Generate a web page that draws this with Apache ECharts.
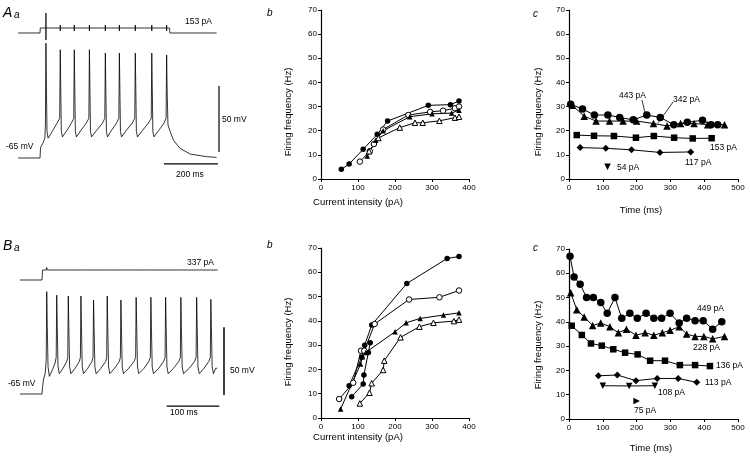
<!DOCTYPE html>
<html><head><meta charset="utf-8">
<script src="https://cdn.jsdelivr.net/npm/echarts@6/dist/echarts.min.js"></script>
<style>html,body{margin:0;padding:0;background:#fff}#c{width:750px;height:458px}</style>
</head><body><div id="c"></div>
<script>
// ---------- DATA ----------
// Panel Aa: membrane potential trace [ms, mV] and current step [ms, pA]
const aaVoltage = [[-81,-65],[0,-65],[2,-57],[10,-54],[18,-50],[20,-40],
 [22,22],[24,-15],[26,-45],[30,-50],[45,-45],[62,-39],[73,-35],
 [75,17],[77,-15],[79,-45],[83,-49],[100,-44],[115,-39],[125,-35],
 [127,17],[129,-15],[131,-45],[135,-49],[152,-44],[170,-39],[181,-35],
 [183,17],[185,-15],[187,-45],[191,-49],[210,-44],[230,-39],[240,-35],
 [242,14.5],[244,-15],[246,-45],[250,-49],[265,-44],[282,-39],[292,-35],
 [294,14.5],[296,-15],[298,-45],[302,-49],[320,-44],[340,-39],[351,-35],
 [353,14.5],[355,-15],[357,-45],[361,-49],[380,-44],[400,-39],[412,-35],
 [414,14.5],[416,-15],[418,-45],[422,-49],[440,-44],[458,-39],[467,-35],
 [469,13],[471,-15],[474,-40],[484,-46],[494,-51.4],[518,-57.6],[556,-62],[617,-64],[654,-64.5]];
const aaCurrent = [[-81,0],[0,0],[1,153],[22,153],[22,612],[22,-214],[22,153],
 [75,153],[75,245],[75,61],[75,153],[127,153],[127,245],[127,61],[127,153],
 [183,153],[183,245],[183,61],[183,153],[242,153],[242,245],[242,61],[242,153],
 [294,153],[294,245],[294,61],[294,153],[353,153],[353,245],[353,61],[353,153],
 [414,153],[414,245],[414,61],[414,153],[469,153],[469,245],[469,61],[469,153],
 [480,153],[481,0],[654,0]];
const aaBarT = [[459,-69.5],[659,-69.5]];
const aaBarV = [[663,-60.5],[663,-10.5]];

// Panel Ba
const baVoltage = [[-42,-65],[0,-65],[1,-60],[3,-54],[6,-50],[8,-40],
 [9,10.6],[10,-15],[11.5,-45],[14,-52],[20,-47],[25,-42],[27,-38],
 [28,8],[29,-15],[30.5,-45],[33,-50],[40,-46],[47,-41],[49,-38],
 [50,7.4],[51,-15],[52.5,-45],[55,-50],[63,-46],[71,-41],[73,-38],
 [74,7.4],[75,-15],[76.5,-45],[79,-50],[87,-46],[95,-41],[97,-38],
 [98,4.4],[99,-15],[100.5,-45],[103,-50],[112,-46],[121,-41],[123,-38],
 [124,7.4],[125,-15],[126.5,-45],[129,-50],[138,-46],[147,-41],[149,-38],
 [150,4.4],[151,-15],[152.5,-45],[155,-50],[165,-46],[175,-41],[178,-38],
 [179,6.4],[180,-15],[181.5,-45],[184,-50],[194,-46],[203,-41],[206,-38],
 [207,6.4],[208,-15],[209.5,-45],[212,-50],[222,-46],[231,-41],[234,-38],
 [235,6.4],[236,-15],[237.5,-45],[240,-50],[250,-46],[260,-41],[263,-38],
 [264,6.4],[265,-15],[266.5,-45],[269,-50],[280,-46],[290,-41],[293,-38],
 [294,6.4],[295,-15],[296.5,-45],[299,-50],[308,-46],[317,-41],[320,-38],
 [321,4.9],[322,-15],[323.5,-45],[326,-50],[330,-46],[333,-46]];
const baCurrent = [[-42,0],[0,0],[1,337],[8,337],[9,420],[10,337],[27,337],[28,400],[29,337],
 [49,337],[50,400],[51,337],[73,337],[74,400],[75,337],[97,337],[98,400],[99,337],
 [123,337],[124,400],[125,337],[149,337],[150,400],[151,337],[178,337],[179,400],[180,337],
 [206,337],[207,400],[208,337],[234,337],[235,400],[236,337],[263,337],[264,400],[265,337],
 [293,337],[294,400],[295,337],[320,337],[321,400],[322,337],[334,337]];
const baBarT = [[237,-73.9],[337,-73.9]];
const baBarV = [[346,-65.7],[346,-15.7]];

// Panel Ab: firing frequency (Hz) vs current (pA)
const abFilledCircle = [[55,4],[76,6.2],[114,12.3],[152,18.5],[180,24],[290,30.5],[350,30.8],[373,32.3]];
const abOpenCircle = [[105,7.2],[132,11.5],[143,14.5],[168,20.5],[236,26.5],[295,27.8],[330,28.3],[362,29.3],[373,30]];
const abFilledTri = [[125,9.5],[148,16],[168,20],[240,25.8],[300,27],[353,27.3],[373,28.5]];
const abOpenTri = [[130,11.5],[155,17],[213,21.3],[254,23.3],[275,23.3],[320,24.1],[362,25.4],[373,25.8]];

// Panel Ac: firing frequency (Hz) vs time (ms)
const ac443 = [[5,31],[40,29],[75,26.5],[115,26.5],[150,25.5],[190,24.5],[230,26.5],[270,25.5],[310,22.5],[350,23.5],[395,24.3],[420,22.5],[440,22.5]];
const ac342 = [[10,30.5],[45,26],[80,24],[120,24],[160,24],[200,24],[250,23],[290,22],[330,23],[370,23],[410,22.5],[460,22.5]];
const ac153 = [[23,18.2],[74,17.9],[133,17.8],[198,17.1],[251,17.8],[311,17.1],[366,16.8],[422,16.9]];
const ac117 = [[33,13],[109,12.7],[185,12.1],[269,11],[360,11.2]];
const ac54 = [[114,5.1]];
const acPtr1 = [[216,32.7],[225,27.3]];
const acPtr2 = [[308,31.9],[263,23.2]];

// Panel Bb
const bbFilledCircle = [[76,13.3],[110,25],[118,30],[137,38.3],[232,55.4],[341,65.7],[373,66.5]];
const bbFilledCircle2 = [[83,8.8],[114,14],[116,17.7],[128,27],[133,31]];
const bbOpenCircle = [[49,7.8],[87,14.5],[108,27.7],[117,27.7],[145,38.7],[238,48.8],[320,49.7],[373,52.5]];
const bbFilledTri = [[53,3.7],[107,22.2],[112,25.2],[121,27],[200,35.5],[230,39.2],[268,41],[331,42.4],[373,43.3]];
const bbOpenTri = [[105,6],[131,10.4],[137,14.3],[168,19.8],[171,23.6],[215,33.2],[266,37.6],[304,39.2],[359,39.9],[373,40.5]];

// Panel Bc
const bc449 = [[3,67],[15,58.5],[33,55.5],[52,50],[72,50],[94,48],[113,43.5],[136,50],[156,41.5],[180,43.5],[202,41.5],[228,43.5],[251,41.5],[274,41.5],[299,43.5],[326,39.5],[348,41.5],[373,40.5],[397,40.5],[425,37],[452,40]];
const bc228 = [[5,52],[23,45],[45,42],[70,38.5],[94,39.5],[121,38],[146,35.5],[170,37],[198,34.5],[225,35.5],[251,34.5],[276,35.5],[299,36.5],[326,38],[348,35],[373,34],[399,34],[425,33],[460,34]];
const bc136 = [[8,38.4],[38,34.6],[65,31.1],[97,30.2],[131,28.7],[166,27.3],[203,26.6],[240,24],[284,24],[328,22.2],[373,22.2],[417,21.8]];
const bc113 = [[87,17.8],[143,18.1],[198,15.8],[261,16.7],[323,16.7],[378,15.1]];
const bc108 = [[100,13.7],[178,13.6],[254,13.7]];
const bc75 = [[200,7.4]];

const freqTicks = [0,10,20,30,40,50,60,70];

// ---------- CHART ----------
const FONT = 'Liberation Sans, Arial, sans-serif';
const chart = echarts.init(document.getElementById('c'), null, {renderer:'canvas'});

function hidden(min,max){return {type:'value',min,max,show:false};}
function xAx(grid,max){return {type:'value',gridIndex:grid,min:0,max:max,interval:100,
  axisLine:{show:true,onZero:false,lineStyle:{color:'#000',width:1.2}},
  axisTick:{show:true,length:3,lineStyle:{color:'#000',width:1}},
  axisLabel:{color:'#000',fontSize:8,fontFamily:FONT,margin:5},splitLine:{show:false}};}
function yAx(grid){return {type:'value',gridIndex:grid,min:0,max:70,interval:10,
  axisLine:{show:true,onZero:false,lineStyle:{color:'#000',width:1.2}},
  axisTick:{show:true,length:3,lineStyle:{color:'#000',width:1}},
  axisLabel:{color:'#000',fontSize:8,fontFamily:FONT,margin:4},splitLine:{show:false}};}

const grids = [
  {left:13,top:32.6,width:216,height:145.2},      // 0 Aa voltage
  {left:13,top:10,width:216,height:35},           // 1 Aa current
  {left:321,top:10,width:148,height:169},         // 2 Ab
  {left:569,top:10,width:169,height:169},         // 3 Ac
  {left:15.7,top:265.4,width:210.4,height:148.9}, // 4 Ba voltage
  {left:15.7,top:255,width:210.4,height:35},      // 5 Ba current
  {left:321,top:248,width:148,height:170},        // 6 Bb
  {left:569,top:249,width:169,height:170}         // 7 Bc
].map(g=>Object.assign({containLabel:false,outerBoundsMode:'none'},g));

const xAxes = [
  Object.assign(hidden(-100,700),{gridIndex:0}),
  Object.assign(hidden(-100,700),{gridIndex:1}),
  xAx(2,400), xAx(3,500),
  Object.assign(hidden(-50,350),{gridIndex:4}),
  Object.assign(hidden(-50,350),{gridIndex:5}),
  xAx(6,400), xAx(7,500)
];
const yAxes = [
  Object.assign(hidden(-80,30),{gridIndex:0}),
  Object.assign(hidden(-367,703),{gridIndex:1}),
  yAx(2), yAx(3),
  Object.assign(hidden(-80,30),{gridIndex:4}),
  Object.assign(hidden(-337,843),{gridIndex:5}),
  yAx(6), yAx(7)
];

function trace(idx,data,w){return {type:'line',xAxisIndex:idx,yAxisIndex:idx,data,symbol:'none',
  lineStyle:{color:'#000',width:w||0.8},clip:false,silent:true,animation:false};}
function pts(idx,data,sym,open,size,rot){return {type:'line',xAxisIndex:idx,yAxisIndex:idx,data,
  symbol:sym,symbolSize:size,symbolRotate:rot||0,showSymbol:true,showAllSymbol:true,
  lineStyle:{color:'#000',width:1},
  itemStyle:{color:open?'#fff':'#000',borderColor:'#000',borderWidth:open?1:0},
  clip:false,silent:true,animation:false};}

const series = [
  trace(0,aaVoltage,0.8), trace(1,aaCurrent,0.8), trace(0,aaBarT,1.2), trace(0,aaBarV,1.2),
  trace(4,baVoltage,0.8), trace(5,baCurrent,0.8), trace(4,baBarT,1.2), trace(4,baBarV,1.5),
  pts(2,abFilledCircle,'circle',false,5.5), pts(2,abOpenCircle,'circle',true,5.5),
  pts(2,abFilledTri,'triangle',false,5.5), pts(2,abOpenTri,'triangle',true,5.5),
  pts(3,ac443,'circle',false,7.5), pts(3,ac342,'triangle',false,7.5), pts(3,ac153,'rect',false,6.5),
  pts(3,ac117,'diamond',false,7), pts(3,ac54,'triangle',false,6.5,180),
  trace(3,acPtr1,0.8), trace(3,acPtr2,0.8),
  pts(6,bbFilledCircle,'circle',false,5.5), pts(6,bbFilledCircle2,'circle',false,5.5),
  pts(6,bbOpenCircle,'circle',true,5.5), pts(6,bbFilledTri,'triangle',false,5.5),
  pts(6,bbOpenTri,'triangle',true,5.5),
  pts(7,bc449,'circle',false,7.5), pts(7,bc228,'triangle',false,7.5), pts(7,bc136,'rect',false,6.5),
  pts(7,bc113,'diamond',false,7), pts(7,bc108,'triangle',false,6.5,180), pts(7,bc75,'triangle',false,6.5,-90)
];

function txt(x,y,text,opt){opt=opt||{};return {type:'text',x,y,rotation:opt.rot||0,silent:true,
  style:{text,fill:'#000',font:(opt.style||'normal')+' '+(opt.size||9)+'px '+FONT,
  align:opt.align||'left',verticalAlign:'middle',textAlign:opt.align||'left',textVerticalAlign:'middle'}};}

const graphic = [
  txt(3,13,'A',{size:14,style:'italic'}), txt(14,15,'a',{size:10,style:'italic'}),
  txt(3,246,'B',{size:14,style:'italic'}), txt(14,248,'a',{size:10,style:'italic'}),
  txt(267,13,'b',{size:10,style:'italic'}), txt(533,14,'c',{size:10,style:'italic'}),
  txt(267,245,'b',{size:10,style:'italic'}), txt(533,248,'c',{size:10,style:'italic'}),
  txt(185,22,'153 pA',{size:8.5}), txt(6,147,'-65 mV',{size:8.5}), txt(222,120,'50 mV',{size:8.5}),
  txt(176,175,'200 ms',{size:8.5}),
  txt(187,263,'337 pA',{size:8.5}), txt(8,384,'-65 mV',{size:8.5}), txt(230,371,'50 mV',{size:8.5}),
  txt(170,413,'100 ms',{size:8.5}),
  txt(288,112,'Firing frequency (Hz)',{rot:Math.PI/2,align:'center',size:9.5}),
  txt(358,202,'Current intensity (pA)',{align:'center',size:9.5}),
  txt(538,112,'Firing frequency (Hz)',{rot:Math.PI/2,align:'center',size:9.5}),
  txt(641,210,'Time (ms)',{align:'center',size:9.5}),
  txt(288,342,'Firing frequency (Hz)',{rot:Math.PI/2,align:'center',size:9.5}),
  txt(358,437,'Current intensity (pA)',{align:'center',size:9.5}),
  txt(538,345,'Firing frequency (Hz)',{rot:Math.PI/2,align:'center',size:9.5}),
  txt(651,448,'Time (ms)',{align:'center',size:9.5}),
  txt(619,96,'443 pA',{size:8.5}), txt(673,100,'342 pA',{size:8.5}),
  txt(710,148,'153 pA',{size:8.5}), txt(685,163,'117 pA',{size:8.5}), txt(617,168,'54 pA',{size:8.5}),
  txt(697,309,'449 pA',{size:8.5}), txt(693,348,'228 pA',{size:8.5}), txt(716,366,'136 pA',{size:8.5}),
  txt(705,383,'113 pA',{size:8.5}), txt(658,393,'108 pA',{size:8.5}), txt(634,411,'75 pA',{size:8.5})
];

chart.setOption({animation:false,backgroundColor:'#fff',grid:grids,xAxis:xAxes,yAxis:yAxes,series,graphic});
</script></body></html>
